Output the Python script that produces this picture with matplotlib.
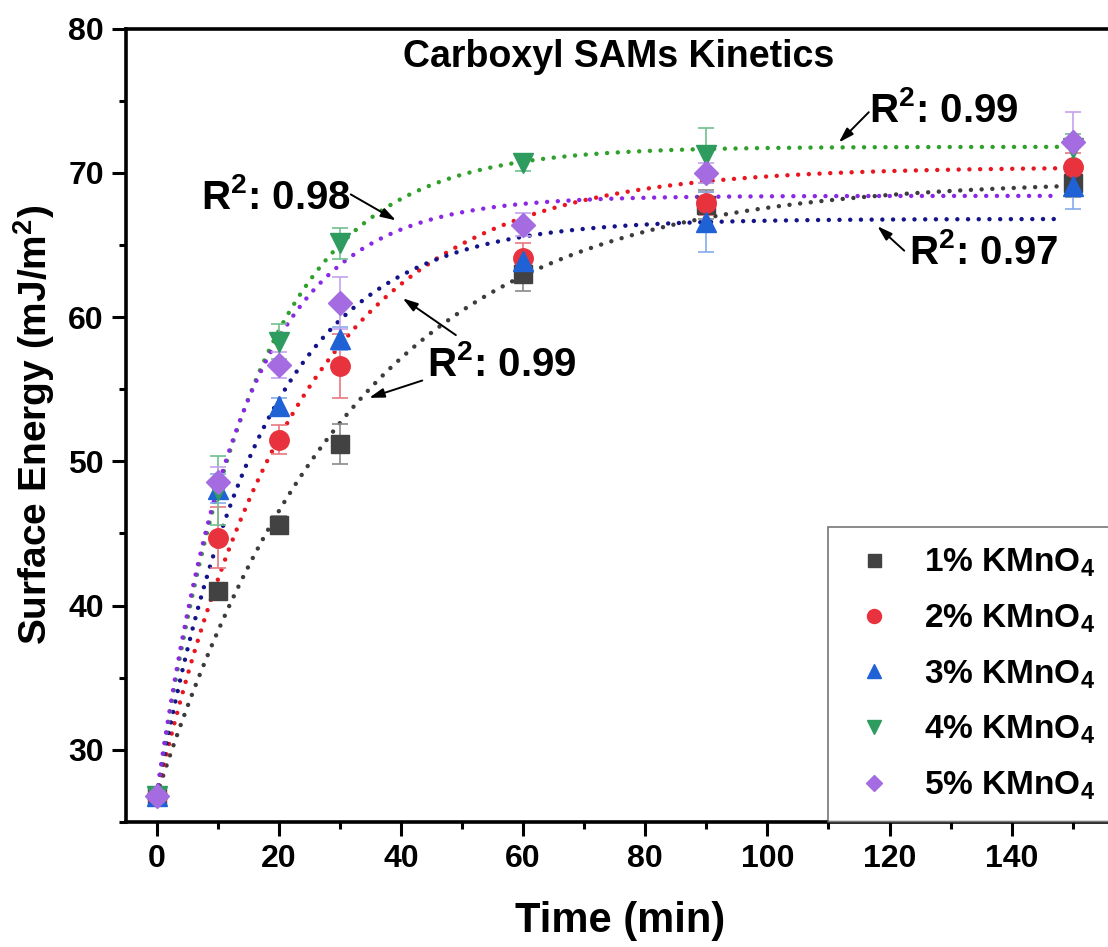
import numpy as np
import matplotlib
matplotlib.use("Agg")
import matplotlib.pyplot as plt
from matplotlib.lines import Line2D

plt.rcParams['font.family'] = ['Liberation Sans', 'DejaVu Sans']
plt.rcParams['font.weight'] = 'bold'
plt.rcParams['mathtext.fontset'] = 'custom'
plt.rcParams['mathtext.rm'] = 'Liberation Sans:bold'
plt.rcParams['mathtext.it'] = 'Liberation Sans:bold'
plt.rcParams['mathtext.bf'] = 'Liberation Sans:bold'

# data
time_min = [0, 10, 20, 30, 60, 90, 150]
labels = ['1% KMnO$_4$', '2% KMnO$_4$', '3% KMnO$_4$', '4% KMnO$_4$', '5% KMnO$_4$']

energy_1 = [26.8, 41.0, 45.6, 51.2, 63.0, 67.8, 69.3]
energy_2 = [26.8, 44.7, 51.5, 56.6, 64.1, 67.9, 70.4]
energy_3 = [26.8, 48.1, 53.8, 58.5, 63.9, 66.6, 69.1]
energy_4 = [26.8, 48.0, 58.3, 65.1, 70.7, 71.2, 71.7]
energy_5 = [26.8, 48.6, 56.7, 61.0, 66.4, 70.0, 72.1]

err_1 = [0.4, 0.5, 0.6, 1.4, 1.2, 1.0, 1.0]
err_2 = [0.4, 2.1, 1.0, 2.2, 1.0, 0.8, 1.0]
err_3 = [0.4, 1.0, 0.6, 0.8, 0.5, 2.1, 1.6]
err_4 = [0.4, 2.4, 1.2, 1.1, 0.6, 1.9, 1.0]
err_5 = [0.4, 1.0, 0.9, 1.8, 0.8, 0.7, 2.1]

# exponential fit parameters (plateau, rate) estimated from the fitted curves
fit_start = 26.8
fit_plateau = [69.5, 70.4, 66.8, 71.8, 68.4]
fit_rate = [0.031, 0.042, 0.058, 0.063, 0.072]

# R^2 labels
r2_text = ['R$^2$: 0.99', 'R$^2$: 0.97', 'R$^2$: 0.98', 'R$^2$: 0.99']
r2_pos = [(116.6, 74.3), (123.2, 64.5), (7.3, 68.3), (44.3, 56.7)]
arrow_tail = [(116.6, 74.2), (122.4, 64.6), (31.8, 68.5), (49.0, 58.75), (43.5, 55.6)]
arrow_tip = [(111.7, 72.1), (118.0, 66.3), (39.2, 66.7), (40.3, 61.3), (34.8, 54.4)]

energies = [energy_1, energy_2, energy_3, energy_4, energy_5]
errors = [err_1, err_2, err_3, err_4, err_5]
markers = ['s', 'o', '^', 'v', 'D']
msizes = [13, 14, 14, 14, 12]
mcolors = ['#424242', '#e8333f', '#1f62d6', '#2e9b5f', '#a46ce0']
ecolors = ['#8a8a8a', '#ea7880', '#85aaea', '#70c090', '#c5a2ec']
lcolors = ['#3c3c3c', '#e8171f', '#14148a', '#2fa02a', '#8a28e6']

fig = plt.figure(figsize=(11.08, 9.47), dpi=100)
ax = fig.add_axes([0.1137, 0.132, 0.9097, 0.8379])

t_fit = np.linspace(0, 148, 300)
for i in range(5):
    y_fit = fit_plateau[i] - (fit_plateau[i] - fit_start) * np.exp(-fit_rate[i] * t_fit)
    ax.plot(t_fit, y_fit, color=lcolors[i], lw=3.2, linestyle=(0, (0.01, 2.4)),
            dash_capstyle='round', zorder=3)

for i in range(5):
    ax.errorbar(time_min, energies[i], yerr=errors[i], fmt=markers[i], ms=msizes[i],
                color=mcolors[i], mec=mcolors[i], ecolor=ecolors[i], elinewidth=1.2,
                capsize=6, capthick=1.2, zorder=4)

for i in range(4):
    ax.text(r2_pos[i][0], r2_pos[i][1], r2_text[i], fontsize=29, fontweight='bold',
            ha='left', va='center', zorder=6)
for tail, tip in zip(arrow_tail, arrow_tip):
    ax.annotate('', xy=tip, xytext=tail,
                arrowprops=dict(arrowstyle='-|>,head_length=0.9,head_width=0.28',
                                color='black', lw=1.4, shrinkA=0, shrinkB=0), zorder=6)

ax.text(75.7, 78.0, 'Carboxyl SAMs Kinetics', fontsize=27, fontweight='bold',
        ha='center', va='center')

ax.set_xlim(-5, 160)
ax.set_ylim(25, 80)
ax.set_xticks(np.arange(0, 141, 20))
ax.set_xticks(np.arange(10, 160, 20), minor=True)
ax.set_yticks(np.arange(30, 81, 10))
ax.set_yticks(np.arange(25, 80, 10), minor=True)
ax.tick_params(which='major', direction='out', length=10, width=2.2, labelsize=23, pad=6)
ax.tick_params(which='minor', direction='out', length=5, width=2.2)
ax.tick_params(top=False, right=False)
for s in ['left', 'bottom', 'top']:
    ax.spines[s].set_linewidth(2.6)
ax.spines['right'].set_visible(False)

ax.set_xlabel('Time (min)', fontsize=30, fontweight='bold')
ax.set_ylabel('Surface Energy (mJ/m$^2$)', fontsize=28, fontweight='bold')
ax.xaxis.set_label_coords(0.49, -0.1)
ax.yaxis.set_label_coords(-0.068, 0.5)

# legend shows only the markers
handles = [Line2D([], [], linestyle='none', marker=markers[i], ms=msizes[i] * 0.72,
                  color=mcolors[i]) for i in range(5)]
leg = ax.legend(handles, labels, loc='lower left', bbox_to_anchor=(0.696, 0.0),
                borderaxespad=0, fontsize=24, frameon=True, fancybox=False,
                labelspacing=0.7, handletextpad=0.7, borderpad=0.6, handlelength=1.6)
leg.get_frame().set_edgecolor('#555555')
leg.get_frame().set_linewidth(1.2)

fig.savefig('out.png', dpi=100)
